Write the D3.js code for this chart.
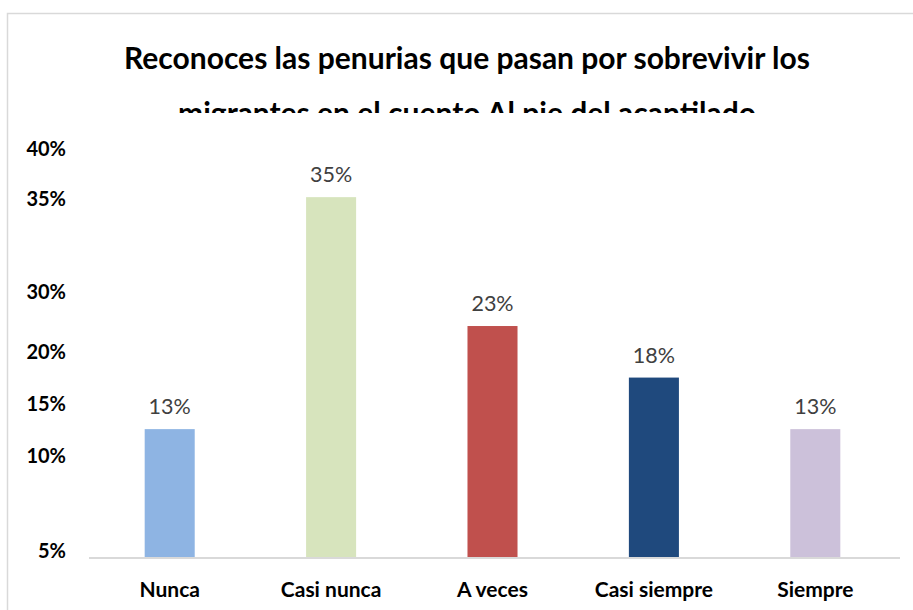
<!DOCTYPE html>
<html><head><meta charset="utf-8">
<script src="https://cdn.jsdelivr.net/npm/d3@7/dist/d3.min.js"></script>
<style>body{margin:0;background:#fff}svg{display:block}</style>
</head><body>
<script>
const categories = ["Nunca", "Casi nunca", "A veces", "Casi siempre", "Siempre"];
const values = [12.5, 35, 22.5, 17.5, 12.5];
const valueLabels = ["13%", "35%", "23%", "18%", "13%"];
const colors = ["#8eb4e3", "#d7e4bd", "#c0504d", "#1f497d", "#ccc1da"];
const yTickLabels = ["40%", "35%", "30%", "20%", "15%", "10%", "5%"];
const yTickPos = [39.7, 34.8, 25.8, 20, 14.9, 9.9, 0.7];
const titleLines = ["Reconoces las penurias que pasan por sobrevivir los", "migrantes en el cuento Al pie del acantilado"];

const W = 913, H = 610;
const svg = d3.select("body").append("svg").attr("width", W).attr("height", H);
const font = "Lato, 'Open Sans', sans-serif";

// chart border
svg.append("path").attr("d", "M7.5,610 V13.5 H913").attr("fill", "none").attr("stroke", "#d9d9d9").attr("stroke-width", 1.5);

// title (second line clipped)
svg.append("clipPath").attr("id", "tclip").append("rect").attr("x", 0).attr("y", 20).attr("width", W).attr("height", 93);
const tg = svg.append("g").attr("clip-path", "url(#tclip)");
tg.selectAll("text").data(titleLines).join("text")
  .attr("x", 467).attr("y", (d, i) => 69 + i * 55)
  .attr("text-anchor", "middle").attr("font-family", font).attr("font-weight", "bold")
  .attr("font-size", 30).attr("fill", "#000").text(d => d);

const x = d3.scaleBand().domain(categories).range([89, 896]).paddingInner(0.69).paddingOuter(0.345);
const y = d3.scaleLinear().domain([0, 40]).range([558, 145.6]);

// bars
svg.selectAll("rect.bar").data(values).join("rect").attr("class", "bar")
  .attr("x", (d, i) => x(categories[i])).attr("width", x.bandwidth())
  .attr("y", d => y(d)).attr("height", d => y(0) - y(d))
  .attr("fill", (d, i) => colors[i]);

// baseline axis
const xAxis = d3.axisBottom(x).tickSize(0).tickPadding(22);
const xg = svg.append("g").attr("transform", `translate(0,${y(0)})`).call(xAxis);
xg.select(".domain").attr("stroke", "#d9d9d9").attr("stroke-width", 2).attr("d", "M89,0H900");
xg.selectAll("text").attr("font-family", font).attr("font-weight", "bold").attr("font-size", 21).attr("fill", "#000").attr("dy", "0.8em");

// data labels
svg.selectAll("text.vl").data(values).join("text").attr("class", "vl")
  .attr("x", (d, i) => x(categories[i]) + x.bandwidth() / 2)
  .attr("y", d => y(d) - 15)
  .attr("text-anchor", "middle").attr("font-family", font).attr("font-size", 21.5).attr("fill", "#404040")
  .text((d, i) => valueLabels[i]);

// y labels
const yAxis = d3.axisLeft(y).tickValues(yTickPos).tickFormat((d, i) => yTickLabels[i]).tickSize(0).tickPadding(0);
const yg = svg.append("g").attr("transform", "translate(66,0)").call(yAxis);
yg.select(".domain").remove();
yg.selectAll("text").attr("font-family", font).attr("font-weight", "bold").attr("font-size", 20).attr("fill", "#000");
</script>
</body></html>
